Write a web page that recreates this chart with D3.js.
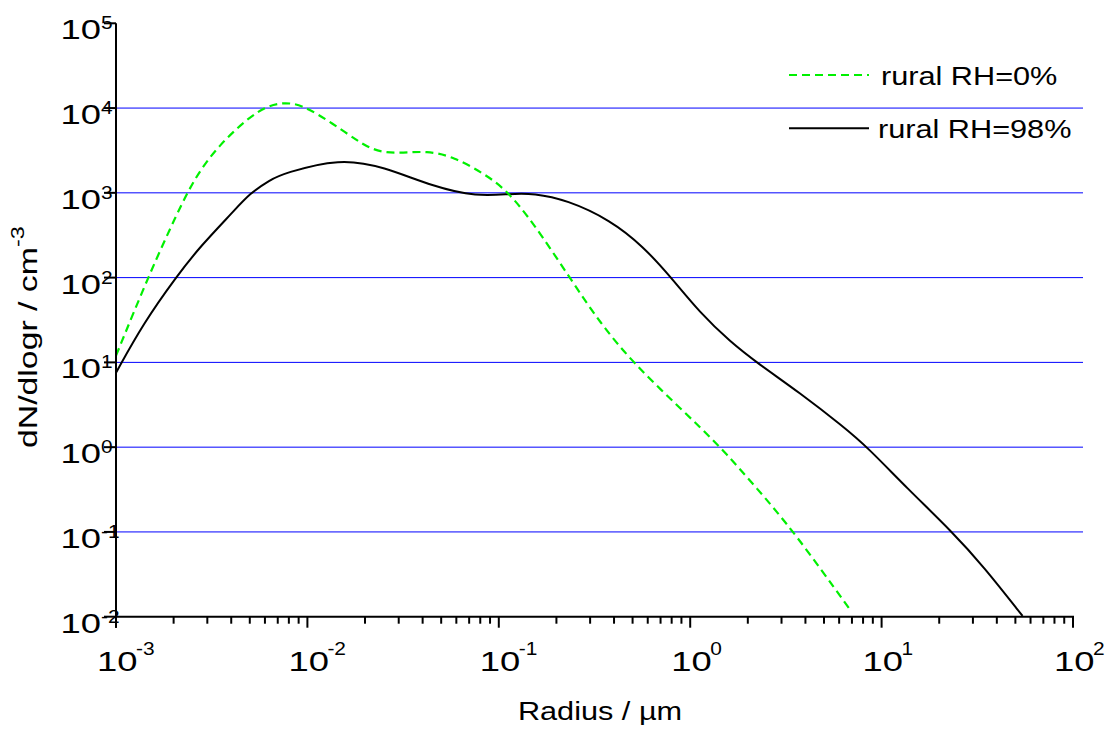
<!DOCTYPE html>
<html>
<head>
<meta charset="utf-8">
<script src="https://cdn.jsdelivr.net/npm/d3@7"></script>
<style>
  html, body { margin: 0; padding: 0; background: #fff; }
  svg { display: block; font-family: "Liberation Sans", Arial, sans-serif; }
</style>
</head>
<body>
<svg id="chart" width="1114" height="729"></svg>
<script>
// ---- data ----
const radiusDry = [0.001, 0.00151, 0.00207, 0.00254, 0.00336, 0.00566, 0.0078, 0.00993, 0.0161, 0.0221, 0.0305, 0.0421, 0.0579, 0.0832, 0.110, 0.152, 0.236, 0.339, 0.506, 0.887, 1.44, 2.23, 3.48, 6.95];
const valuesDry = [12.0, 117, 550, 1410, 3500, 10400, 11900, 10400, 5040, 3050, 2920, 3140, 2670, 1700, 1080, 438, 98.2, 28.9, 9.75, 2.87, 1.01, 0.327, 0.101, 0.0115];

const radiusWet = [0.001, 0.00139, 0.00207, 0.00275, 0.0041, 0.00501, 0.00638, 0.0075, 0.0148, 0.0249, 0.0456, 0.0767, 0.115, 0.152, 0.227, 0.382, 0.570, 0.787, 1.13, 1.62, 2.23, 3.77, 6.32, 8.39, 13.6, 23.3, 34.2, 54.5];
const valuesWet = [7.55, 28.9, 103, 232, 600, 989, 1420, 1700, 2560, 2040, 1180, 902, 975, 989, 824, 479, 232, 103, 37.9, 17.5, 9.91, 4.32, 1.74, 1.01, 0.327, 0.101, 0.0389, 0.0102];

const seriesNames = ["rural RH=0%", "rural RH=98%"];
const xTickExps = [-3, -2, -1, 0, 1, 2];
const yTickExps = [-2, -1, 0, 1, 2, 3, 4, 5];
const xTitle = "Radius / µm";
const yTitle = "dN/dlogr / cm";
const yTitleSup = "-3";

// ---- layout ----
const svg = d3.select("#chart");
const x0 = 116, x1 = 1073, yTop = 23.3, yBot = 616.7;
const x = d3.scaleLog().domain([1e-3, 1e2]).range([x0, x1]);
const y = d3.scaleLog().domain([1e-2, 1e5]).range([yBot, yTop]);
const GREEN = "#00f000";

// stretched text helper (reference glyphs are wider than Liberation Sans)
function stext(g, px, py, size, sx, str, anchor) {
  return g.append("text")
    .attr("transform", `translate(${px},${py}) scale(${sx},1)`)
    .attr("font-size", size)
    .attr("text-anchor", anchor || "start")
    .text(str);
}

// grid lines
svg.append("g").selectAll("line")
  .data(yTickExps.filter(e => e > -2 && e < 5))
  .join("line")
  .attr("x1", x0).attr("x2", 1083)
  .attr("y1", d => y(Math.pow(10, d))).attr("y2", d => y(Math.pow(10, d)))
  .attr("stroke", "#0000ff").attr("stroke-width", 1);

// curves
const line = d3.line().x(d => x(d[0])).y(d => y(d[1])).curve(d3.curveBasis);
const dry = radiusDry.map((r, i) => [r, valuesDry[i]]);
const wet = radiusWet.map((r, i) => [r, valuesWet[i]]);

svg.append("path").datum(wet).attr("d", line)
  .attr("fill", "none").attr("stroke", "#000").attr("stroke-width", 2);
svg.append("path").datum(dry).attr("d", line)
  .attr("fill", "none").attr("stroke", GREEN).attr("stroke-width", 2.2)
  .attr("stroke-dasharray", "8,5");

// x axis
const xMinor = [];
for (let e = -3; e < 2; e++) for (let k = 2; k <= 9; k++) xMinor.push(k * Math.pow(10, e));
const gx = svg.append("g");
gx.append("line").attr("x1", x0 - 1).attr("x2", x1 + 1).attr("y1", yBot).attr("y2", yBot)
  .attr("stroke", "#000").attr("stroke-width", 2);
gx.selectAll("line.minor").data(xMinor).join("line").attr("class", "minor")
  .attr("x1", d => x(d)).attr("x2", d => x(d)).attr("y1", yBot).attr("y2", yBot + 7)
  .attr("stroke", "#000").attr("stroke-width", 2);
gx.selectAll("line.major").data(xTickExps).join("line").attr("class", "major")
  .attr("x1", d => x(Math.pow(10, d))).attr("x2", d => x(Math.pow(10, d)))
  .attr("y1", yBot).attr("y2", yBot + 11)
  .attr("stroke", "#000").attr("stroke-width", 2);
xTickExps.forEach(e => {
  const tx = x(Math.pow(10, e));
  stext(svg, tx - 19, yBot + 54, 28, 1.3, "10");
  stext(svg, tx + 20, yBot + 38, 19, 1.1, String(e));
});

// y axis
const gy = svg.append("g");
gy.append("line").attr("x1", x0).attr("x2", x0).attr("y1", yTop).attr("y2", yBot + 11)
  .attr("stroke", "#000").attr("stroke-width", 2);
gy.selectAll("line.major").data(yTickExps).join("line").attr("class", "major")
  .attr("x1", x0 - 12).attr("x2", x0)
  .attr("y1", d => y(Math.pow(10, d))).attr("y2", d => y(Math.pow(10, d)))
  .attr("stroke", "#000").attr("stroke-width", 2);
yTickExps.forEach(e => {
  const ty = y(Math.pow(10, e));
  stext(svg, 101, ty + 16, 28, 1.3, "10", "end");
  stext(svg, 101, ty + 6, 19, 1.1, String(e));
});

// axis titles
stext(svg, 600, 720, 26, 1.18, xTitle, "middle");
const yt = svg.append("text")
  .attr("transform", "translate(37,448) rotate(-90) scale(1.3,1)")
  .attr("font-size", 26);
yt.append("tspan").text(yTitle);
yt.append("tspan").attr("font-size", 18).attr("dy", -13).text(yTitleSup);

// legend
const legend = [
  { name: seriesNames[0], y: 75, color: GREEN, dash: "8,5", tx: 881, ty: 85 },
  { name: seriesNames[1], y: 128.3, color: "#000", dash: null, tx: 878, ty: 138.3 }
];
const lg = svg.append("g").selectAll("g").data(legend).join("g");
lg.append("line").attr("x1", 789).attr("x2", 869).attr("y1", d => d.y).attr("y2", d => d.y)
  .attr("stroke", d => d.color).attr("stroke-width", 2)
  .attr("stroke-dasharray", d => d.dash);
legend.forEach(d => stext(svg, d.tx, d.ty, 26, 1.18, d.name));
</script>
</body>
</html>
